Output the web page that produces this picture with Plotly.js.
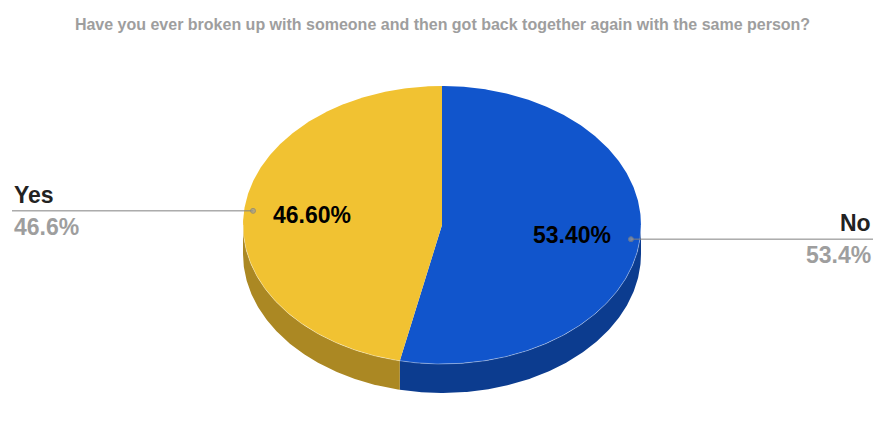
<!DOCTYPE html>
<html>
<head>
<meta charset="utf-8">
<script src="https://cdn.plot.ly/plotly-3.0.1.min.js"></script>
<style>html,body{margin:0;padding:0;background:#fff}#chart{width:885px;height:439px}</style>
</head>
<body>
<div id="chart"></div>
<script>
const labels = ['No', 'Yes'];
const values = [53.4, 46.6];
const topColors = ['#1155cc', '#f1c232'];
const sideColors = ['#0c3c8f', '#ab8823'];

// the axes map 1:1 onto the page, so the pie geometry is in pixels
const W = 885, H = 439;
const cx = 442, cy = 225, rx = 199, ry = 139, depth = 29;
const FONT = 'Liberation Sans, Arial, sans-serif';

function pt(t, k, dy) {
    return [cx + rx * k * Math.sin(t), cy - ry * k * Math.cos(t) + (dy || 0)];
}
function arc(t0, t1, k, dy) {
    const xs = [], ys = [];
    const n = Math.max(2, Math.ceil(Math.abs(t1 - t0) / 0.01));
    for (let i = 0; i <= n; i++) {
        const p = pt(t0 + (t1 - t0) * i / n, k, dy);
        xs.push(p[0]); ys.push(p[1]);
    }
    return [xs, ys];
}

const total = values.reduce((a, b) => a + b, 0);
const starts = [];
let acc = 0;
values.forEach(v => { starts.push(acc / total * 2 * Math.PI); acc += v; });
const ends = values.map((v, i) => starts[i] + v / total * 2 * Math.PI);
const mids = starts.map((s, i) => (s + ends[i]) / 2);

const traces = [];
// front side walls (only the lower half is visible)
values.forEach((v, i) => {
    const a = Math.max(starts[i], Math.PI / 2), b = Math.min(ends[i], 3 * Math.PI / 2);
    if (b <= a) return;
    const up = arc(a, b, 1, 0), down = arc(b, a, 1, depth);
    traces.push({
        x: up[0].concat(down[0]), y: up[1].concat(down[1]),
        type: 'scatter', mode: 'lines', fill: 'toself', fillcolor: sideColors[i],
        line: {width: 0}, hoverinfo: 'skip'
    });
});
// top faces
values.forEach((v, i) => {
    const a = arc(starts[i], ends[i], 1, 0);
    traces.push({
        x: [cx].concat(a[0], [cx]), y: [cy].concat(a[1], [cy]),
        type: 'scatter', mode: 'lines', fill: 'toself', fillcolor: topColors[i],
        line: {width: 0}, hoverinfo: 'skip'
    });
});
// faint rim highlight
const rim = arc(Math.PI / 2, 3 * Math.PI / 2, 1, 0);
traces.push({
    x: rim[0], y: rim[1], type: 'scatter', mode: 'lines',
    line: {width: 1, color: 'rgba(255,255,255,0.35)'}, hoverinfo: 'skip'
});

const annotations = [];
values.forEach((v, i) => {
    const share = v / total * 100;
    const dot = pt(mids[i], 0.955, 0);
    const left = Math.sin(mids[i]) < 0;
    const xEnd = left ? 12 : 873;
    traces.push({
        x: [dot[0], xEnd], y: [dot[1], dot[1]], type: 'scatter', mode: 'lines+markers',
        line: {width: 1, color: '#808080'}, marker: {size: [5, 0], color: '#9a9a9a'},
        hoverinfo: 'skip'
    });
    const inner = pt(mids[i], 0.655, 0);
    annotations.push({
        x: inner[0], y: inner[1], xref: 'x', yref: 'y', showarrow: false,
        text: share.toFixed(2) + '%', xanchor: 'center', yanchor: 'middle',
        font: {family: FONT, size: 23, color: '#000', weight: 'bold'}
    });
    annotations.push({
        x: xEnd, y: dot[1] - 16, xref: 'x', yref: 'y', showarrow: false,
        text: labels[i], xanchor: left ? 'left' : 'right', yanchor: 'middle',
        font: {family: FONT, size: 23, color: '#222', weight: 'bold'}
    });
    annotations.push({
        x: xEnd, y: dot[1] + 16, xref: 'x', yref: 'y', showarrow: false,
        text: share.toFixed(1) + '%', xanchor: left ? 'left' : 'right', yanchor: 'middle',
        font: {family: FONT, size: 23, color: '#9e9e9e', weight: 'bold'}
    });
});

const layout = {
    width: W, height: H,
    margin: {l: 0, r: 0, t: 0, b: 0},
    paper_bgcolor: '#fff', plot_bgcolor: '#fff',
    showlegend: false,
    title: {
        text: 'Have you ever broken up with someone and then got back together again with the same person?',
        font: {family: FONT, size: 16, color: '#9e9e9e', weight: 'bold'},
        x: 0.5, xanchor: 'center', xref: 'paper',
        y: 1 - 24 / H, yanchor: 'middle', yref: 'container'
    },
    xaxis: {range: [0, W], visible: false, fixedrange: true},
    yaxis: {range: [H, 0], visible: false, fixedrange: true},
    annotations: annotations
};

Plotly.newPlot('chart', traces, layout, {displayModeBar: false, staticPlot: true});
</script>
</body>
</html>
